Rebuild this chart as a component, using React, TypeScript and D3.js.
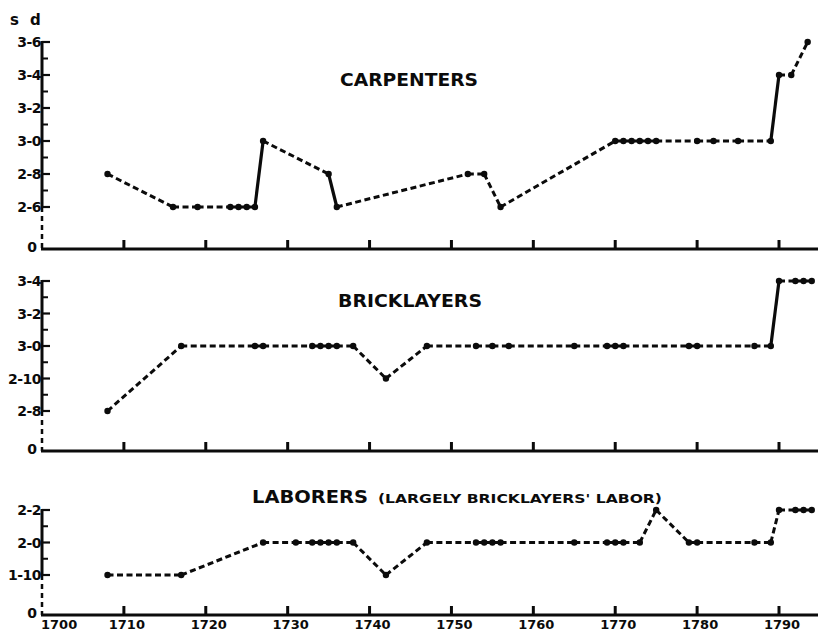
import React from 'react';
import * as d3 from 'd3';

// ---- data (years, wages in pence) ----
const carpYears = [1708, 1716, 1719, 1723, 1724, 1725, 1726, 1727, 1735, 1736, 1752, 1754, 1756, 1770, 1771, 1772, 1773, 1774, 1775, 1780, 1782, 1785, 1789, 1790, 1791.5, 1793.5];
const carpPence = [32, 30, 30, 30, 30, 30, 30, 36, 32, 30, 32, 32, 30, 36, 36, 36, 36, 36, 36, 36, 36, 36, 36, 40, 40, 42];
const carpSolidTo = [1727, 1736, 1790];
const carpTickPence = [30, 32, 36, 38, 40, 42];
const carpTickLabels = ['2-6', '2-8', '3-0', '3-2', '3-4', '3-6'];

const brickYears = [1708, 1717, 1726, 1727, 1733, 1734, 1735, 1736, 1738, 1742, 1747, 1753, 1755, 1757, 1765, 1769, 1770, 1771, 1779, 1780, 1787, 1789, 1790, 1792, 1793, 1794];
const brickPence = [32, 36, 36, 36, 36, 36, 36, 36, 36, 34, 36, 36, 36, 36, 36, 36, 36, 36, 36, 36, 36, 36, 40, 40, 40, 40];
const brickSolidTo = [1790];
const brickTickPence = [32, 34, 36, 38, 40];
const brickTickLabels = ['2-8', '2-10', '3-0', '3-2', '3-4'];

const laborYears = [1708, 1717, 1727, 1731, 1733, 1734, 1735, 1736, 1738, 1742, 1747, 1753, 1754, 1755, 1756, 1765, 1769, 1770, 1771, 1773, 1775, 1779, 1780, 1787, 1789, 1790, 1792, 1793, 1794];
const laborPence = [22, 22, 24, 24, 24, 24, 24, 24, 24, 22, 24, 24, 24, 24, 24, 24, 24, 24, 24, 24, 26, 24, 24, 24, 24, 26, 26, 26, 26];
const laborSolidTo: number[] = [];
const laborTickPence = [22, 24, 26];
const laborTickLabels = ['1-10', '2-0', '2-2'];

const decadeTicks = [1700, 1710, 1720, 1730, 1740, 1750, 1760, 1770, 1780, 1790];
const decadeLabels = ['1700', '1710', '1720', '1730', '1740', '1750', '1760', '1770', '1780', '1790'];

const INK = '#0b0b0b';
const FONT = '"DejaVu Sans", sans-serif';

const x = d3.scaleLinear().domain([1700, 1790]).range([42, 779]);

type PanelProps = {
  years: number[];
  pence: number[];
  solidTo: number[];
  tickPence: number[];
  tickLabels: string[];
  top: number;
  low: number;
  base: number;
  showYears: boolean;
};

function Panel({ years, pence, solidTo, tickPence, tickLabels, top, low, base, showYears }: PanelProps) {
  const n = tickPence.length;
  const y = d3
    .scaleLinear()
    .domain(tickPence)
    .range(tickPence.map((_, i) => low - (i * (low - top)) / (n - 1)));
  const pts = years.map((yr, i) => [x(yr), y(pence[i])] as [number, number]);
  const line = d3.line();
  const segs = pts.slice(1).map((p, i) => ({
    d: line([pts[i], p]) as string,
    solid: solidTo.includes(years[i + 1]),
  }));
  const axisX = x(1700);
  const majors = tickPence.map((t) => y(t));
  const minors = majors.slice(1).map((m, i) => (m + majors[i]) / 2);
  return (
    <g>
      {/* y axis */}
      <line x1={axisX} x2={axisX} y1={top - 1} y2={low} stroke={INK} strokeWidth={3} />
      <line x1={axisX} x2={axisX} y1={low} y2={base} stroke={INK} strokeWidth={2.5} strokeDasharray="5,4" />
      {majors.map((m, i) => (
        <g key={'M' + i}>
          <line x1={axisX} x2={axisX + 8} y1={m} y2={m} stroke={INK} strokeWidth={2.2} />
          <text x={axisX - 1} y={m + 5} textAnchor="end" fontFamily={FONT} fontWeight="bold" fontSize={14} fill={INK} letterSpacing={-0.5}>
            {tickLabels[i]}
          </text>
        </g>
      ))}
      {minors.map((m, i) => (
        <line key={'m' + i} x1={axisX} x2={axisX + 6} y1={m} y2={m} stroke={INK} strokeWidth={2} />
      ))}
      <text x={axisX - 10} y={base + 3} textAnchor="middle" fontFamily={FONT} fontWeight="bold" fontSize={14} fill={INK}>
        0
      </text>
      {/* x axis */}
      <line x1={axisX - 1} x2={818} y1={base} y2={base} stroke={INK} strokeWidth={3} />
      {decadeTicks.slice(1).map((t) => (
        <line key={t} x1={x(t)} x2={x(t)} y1={base} y2={base - 9} stroke={INK} strokeWidth={3} />
      ))}
      {showYears &&
        decadeTicks.map((t, i) => (
          <text key={'l' + t} x={i === 0 ? x(t) - 1 : x(t) + 3} y={629} textAnchor={i === 0 ? 'start' : 'middle'} fontFamily={FONT} fontWeight="bold" fontSize={13} fill={INK}>
            {decadeLabels[i]}
          </text>
        ))}
      {/* data */}
      {segs.map((s, i) => (
        <path
          key={'s' + i}
          d={s.d}
          fill="none"
          stroke={INK}
          strokeWidth={s.solid ? 3.2 : 3}
          strokeDasharray={s.solid ? undefined : '6,3.5'}
        />
      ))}
      {pts.map((p, i) => (
        <circle key={'c' + i} cx={p[0]} cy={p[1]} r={3.2} fill={INK} />
      ))}
    </g>
  );
}

export default function App() {
  return (
    <svg width={820} height={633} style={{ position: 'absolute', left: 0, top: 0, background: '#fff' }}>
      <rect width={820} height={633} fill="#fff" />
      <text x={10} y={25} fontFamily={FONT} fontWeight="bold" fontSize={15} fill={INK}>
        s
      </text>
      <text x={30} y={25} fontFamily={FONT} fontWeight="bold" fontSize={15} fill={INK}>
        d
      </text>
      <text x={340} y={86} textLength={138} lengthAdjust="spacingAndGlyphs" fontFamily={FONT} fontWeight="bold" fontSize={18} fill={INK}>
        CARPENTERS
      </text>
      <text x={338} y={307} textLength={144} lengthAdjust="spacingAndGlyphs" fontFamily={FONT} fontWeight="bold" fontSize={18} fill={INK}>
        BRICKLAYERS
      </text>
      <text x={252} y={503} textLength={116} lengthAdjust="spacingAndGlyphs" fontFamily={FONT} fontWeight="bold" fontSize={18} fill={INK}>
        LABORERS
      </text>
      <text x={378} y={503} textLength={284} lengthAdjust="spacingAndGlyphs" fontFamily={FONT} fontWeight="bold" fontSize={13} fill={INK}>
        (LARGELY BRICKLAYERS' LABOR)
      </text>
      <Panel years={carpYears} pence={carpPence} solidTo={carpSolidTo} tickPence={carpTickPence} tickLabels={carpTickLabels} top={42} low={207} base={249} showYears={false} />
      <Panel years={brickYears} pence={brickPence} solidTo={brickSolidTo} tickPence={brickTickPence} tickLabels={brickTickLabels} top={281} low={411} base={451} showYears={false} />
      <Panel years={laborYears} pence={laborPence} solidTo={laborSolidTo} tickPence={laborTickPence} tickLabels={laborTickLabels} top={510} low={575} base={615} showYears={true} />
    </svg>
  );
}
